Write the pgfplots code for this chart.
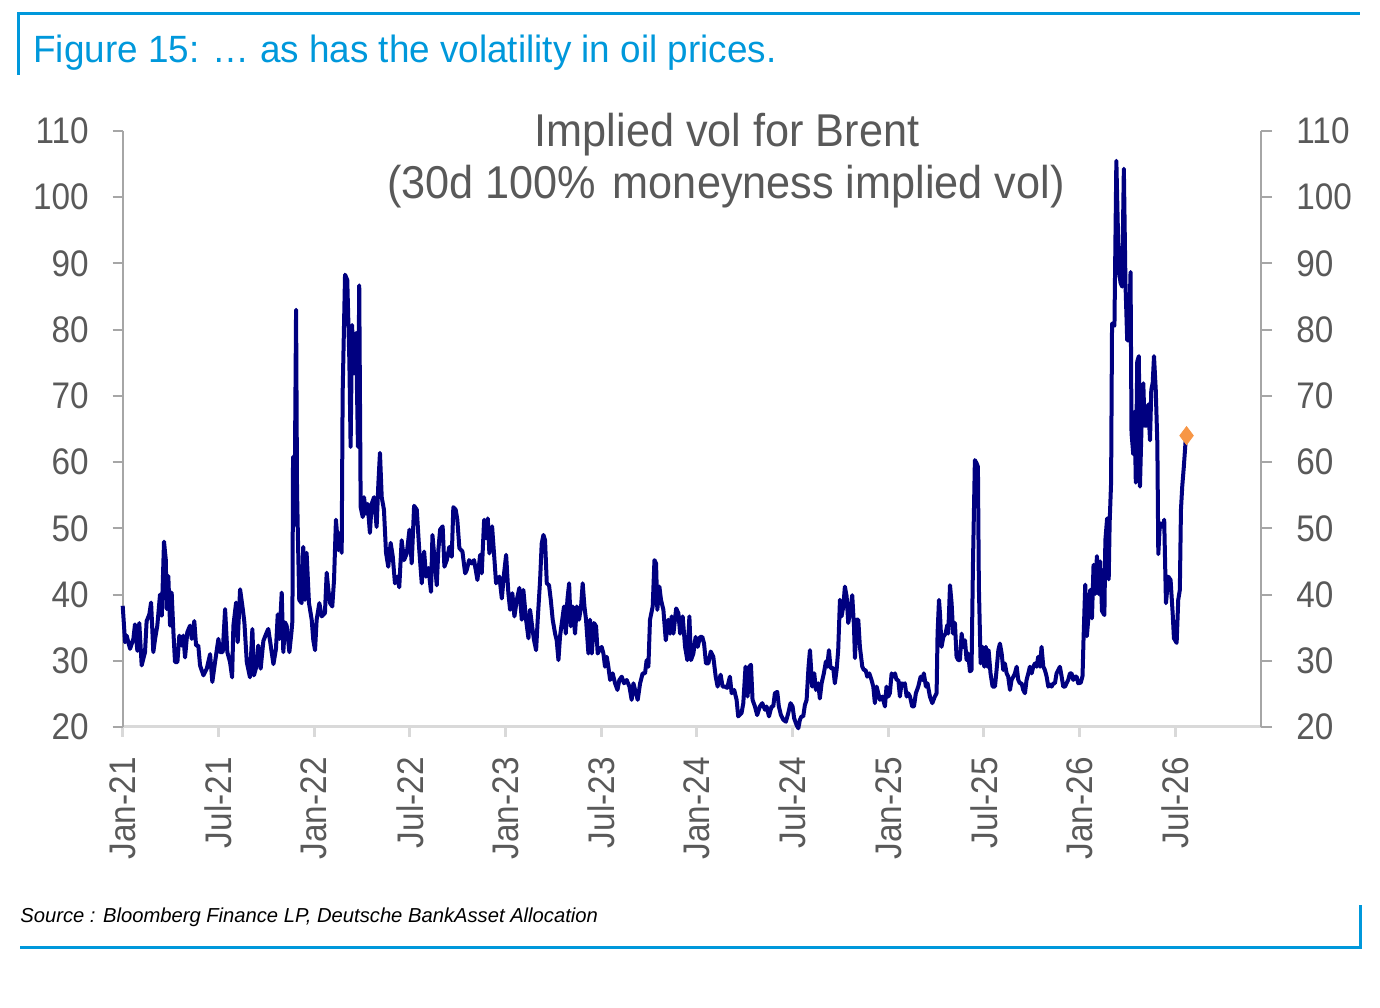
\documentclass[border=0pt]{standalone}
\usepackage{pgfplots}
\pgfplotsset{compat=1.18}
\usepackage{pgfplotstable}
\usepackage{fontspec}
\setmainfont{Liberation Sans}[FakeStretch=0.94]
\newfontfamily\tickfont{Liberation Sans}[FakeStretch=0.9]
\newfontfamily\titlefont{Liberation Sans}[FakeStretch=0.97]
\newfontfamily\srcfont{Liberation Sans}
\definecolor{dbblue}{RGB}{0,152,219}
\definecolor{txtgray}{RGB}{89,89,89}
\definecolor{axgray}{RGB}{166,166,166}
\definecolor{axlight}{RGB}{217,217,217}
\definecolor{navyline}{RGB}{0,0,128}
\definecolor{orangemk}{RGB}{247,150,70}

\pgfplotstableread{
m v
0.00 38.3
0.15 32.8
0.25 33.8
0.46 31.8
0.67 33.3
0.77 35.5
0.92 31.5
1.04 35.7
1.19 29.3
1.40 31.3
1.50 36.0
1.67 37.0
1.78 38.8
1.92 31.3
2.03 33.3
2.17 35.3
2.34 40.0
2.45 36.8
2.59 48.0
2.70 45.3
2.76 37.8
2.86 42.8
2.97 35.3
3.07 40.3
3.18 34.3
3.28 29.8
3.43 29.8
3.55 33.8
3.70 32.3
3.80 33.8
3.91 30.5
4.05 34.3
4.22 35.3
4.33 33.3
4.49 36.0
4.60 32.3
4.74 32.3
4.85 29.3
5.06 27.8
5.27 28.8
5.48 31.0
5.62 26.8
5.79 29.8
6.00 33.3
6.10 31.3
6.27 31.3
6.42 37.8
6.56 31.3
6.73 29.8
6.86 27.5
6.94 35.3
7.11 38.8
7.21 32.8
7.36 40.8
7.53 37.8
7.63 35.8
7.78 29.8
7.98 27.5
8.13 34.8
8.23 27.8
8.40 29.3
8.50 32.3
8.65 28.8
8.82 33.0
9.03 34.3
9.13 34.8
9.28 32.3
9.45 29.5
9.61 31.8
9.72 37.0
9.82 33.3
9.97 40.3
10.07 31.3
10.18 35.8
10.28 35.3
10.45 31.3
10.58 34.3
10.64 36.0
10.68 60.8
10.77 50.5
10.87 83.0
10.93 55.8
11.00 47.0
11.07 39.2
11.22 38.7
11.32 47.2
11.43 39.2
11.53 46.3
11.68 38.7
11.85 36.2
11.95 33.1
12.06 31.6
12.16 36.2
12.33 38.7
12.48 36.7
12.68 37.2
12.79 43.3
12.89 40.8
13.00 38.7
13.14 38.2
13.25 42.2
13.37 51.3
13.52 46.7
13.62 49.3
13.73 46.3
13.79 70.4
13.94 88.3
14.08 87.5
14.21 75.4
14.29 62.3
14.38 80.7
14.50 73.4
14.63 79.5
14.75 62.3
14.83 86.7
14.92 53.2
15.05 51.7
15.13 54.7
15.25 52.2
15.36 53.7
15.50 49.3
15.61 53.7
15.76 54.7
15.92 50.2
16.03 56.8
16.13 61.4
16.24 54.7
16.38 52.8
16.51 46.3
16.65 44.2
16.80 47.8
16.93 45.8
17.07 41.7
17.22 42.7
17.34 41.1
17.49 48.2
17.64 45.2
17.81 46.2
17.98 49.8
18.12 44.7
18.27 53.4
18.44 52.8
18.58 47.2
18.75 41.7
18.90 46.5
19.02 42.7
19.17 44.0
19.33 40.4
19.42 49.0
19.54 45.7
19.69 41.4
19.79 46.7
19.90 49.8
20.06 50.3
20.17 44.2
20.32 45.2
20.48 47.2
20.63 45.7
20.73 53.2
20.88 52.8
20.98 51.3
21.11 47.0
21.30 46.5
21.47 43.2
21.57 43.7
21.72 45.2
21.88 44.7
22.03 45.2
22.24 42.2
22.41 46.0
22.51 43.2
22.66 51.3
22.78 48.5
22.89 51.5
22.99 46.2
23.16 50.3
23.31 45.2
23.41 41.7
23.62 42.7
23.77 39.4
23.91 43.2
24.04 46.0
24.18 40.2
24.29 37.7
24.43 40.2
24.56 36.7
24.71 39.2
24.87 41.0
25.02 36.2
25.12 40.7
25.29 36.2
25.44 33.4
25.54 37.7
25.67 35.2
25.79 33.1
25.92 31.6
26.02 36.2
26.17 42.2
26.27 47.7
26.38 49.0
26.48 48.2
26.59 41.7
26.73 41.4
26.84 39.2
26.96 36.2
27.11 34.1
27.21 33.1
27.32 30.1
27.42 33.7
27.53 35.7
27.67 38.2
27.78 34.1
27.88 39.2
27.99 41.7
28.09 35.2
28.22 38.2
28.36 34.1
28.47 38.2
28.61 36.2
28.74 38.2
28.84 41.7
28.95 38.2
29.05 36.2
29.20 31.1
29.30 36.2
29.41 31.1
29.55 35.7
29.68 35.2
29.78 31.1
29.89 31.6
30.03 32.1
30.14 31.1
30.24 29.1
30.35 30.6
30.45 29.1
30.56 27.1
30.72 28.1
30.87 26.6
31.02 25.6
31.14 27.1
31.29 27.6
31.43 26.6
31.60 27.1
31.77 26.1
31.91 24.1
32.02 26.6
32.18 25.1
32.29 24.1
32.44 26.6
32.60 28.1
32.75 28.1
32.85 30.1
32.96 29.1
33.06 36.2
33.23 38.2
33.34 45.2
33.44 44.7
33.52 37.7
33.65 41.2
33.75 39.2
33.90 37.7
34.05 33.1
34.21 36.2
34.32 34.1
34.42 36.7
34.53 34.1
34.70 37.9
34.84 37.2
34.95 34.1
35.11 36.7
35.26 32.1
35.40 30.1
35.53 36.7
35.63 30.1
35.78 31.1
35.92 33.6
36.05 32.1
36.20 33.6
36.34 33.6
36.45 32.6
36.57 29.6
36.72 29.6
36.87 31.4
37.03 30.6
37.18 27.6
37.30 26.1
37.34 26.6
37.49 27.9
37.61 26.1
37.76 26.1
37.90 25.9
38.07 27.6
38.18 25.1
38.34 25.6
38.49 24.1
38.59 21.6
38.80 22.1
38.91 23.6
39.05 29.1
39.18 24.6
39.28 29.1
39.39 29.4
39.49 24.1
39.64 23.1
39.78 21.8
39.95 23.1
40.10 23.6
40.27 22.6
40.37 23.1
40.52 21.6
40.68 23.1
40.79 23.1
40.89 25.1
41.04 25.3
41.14 23.1
41.27 21.8
41.42 21.1
41.58 20.8
41.73 22.1
41.87 23.6
42.00 23.1
42.10 21.3
42.25 20.3
42.36 19.8
42.46 21.1
42.56 21.6
42.67 21.6
42.77 23.3
42.88 24.1
43.00 29.1
43.09 31.6
43.23 26.1
43.36 28.1
43.46 25.6
43.61 26.6
43.71 24.3
43.82 26.6
43.96 28.1
44.09 29.9
44.17 29.1
44.28 31.6
44.38 28.9
44.55 28.9
44.65 26.6
44.76 28.6
44.86 31.6
44.97 39.2
45.07 36.7
45.18 38.2
45.28 41.2
45.39 39.7
45.49 35.7
45.60 37.2
45.74 39.9
45.85 35.2
45.91 30.4
46.01 36.2
46.12 36.2
46.22 32.1
46.37 29.1
46.47 28.6
46.58 28.6
46.68 27.6
46.81 28.1
46.95 27.1
47.06 26.1
47.16 23.6
47.27 26.1
47.37 25.1
47.48 24.1
47.64 24.6
47.79 23.1
47.89 26.1
48.00 24.6
48.10 25.1
48.21 28.1
48.31 27.6
48.42 28.1
48.52 27.1
48.63 27.1
48.73 24.6
48.83 26.6
48.94 26.4
49.04 26.6
49.15 24.6
49.25 25.1
49.36 24.6
49.50 23.1
49.61 23.1
49.73 25.1
49.88 26.1
50.03 27.6
50.13 27.1
50.23 28.1
50.36 26.1
50.46 26.6
50.61 24.6
50.76 23.6
50.92 24.6
51.03 25.1
51.09 34.1
51.18 39.2
51.24 37.2
51.34 32.1
51.45 33.6
51.59 34.1
51.70 35.4
51.76 34.1
51.87 41.4
51.97 38.7
52.07 34.1
52.18 35.7
52.28 30.6
52.39 30.1
52.49 30.1
52.60 34.1
52.70 32.1
52.81 33.1
52.91 30.1
53.01 31.1
53.12 28.4
53.22 28.6
53.31 44.7
53.43 60.3
53.54 59.8
53.62 59.3
53.68 41.2
53.79 29.6
53.91 32.1
54.02 29.1
54.12 32.1
54.21 29.1
54.29 31.6
54.41 28.1
54.54 26.1
54.69 26.1
54.79 28.6
54.90 31.6
55.00 32.6
55.11 31.1
55.21 28.6
55.31 29.6
55.42 28.1
55.52 27.6
55.63 25.6
55.73 27.1
55.84 27.6
55.94 28.1
56.05 29.1
56.15 27.1
56.25 26.6
56.36 26.6
56.46 25.6
56.57 25.1
56.67 27.1
56.78 28.1
56.88 29.1
56.99 28.1
57.09 29.1
57.20 29.6
57.30 29.1
57.40 30.6
57.51 29.1
57.61 32.1
57.72 29.1
57.82 28.6
57.93 27.6
58.03 26.1
58.14 26.4
58.24 26.1
58.35 26.6
58.45 26.6
58.55 28.1
58.66 28.6
58.76 29.1
58.87 27.6
58.97 26.1
59.08 26.1
59.18 26.6
59.28 27.1
59.39 28.1
59.49 28.1
59.60 27.1
59.70 27.6
59.81 27.6
59.91 26.6
60.07 26.7
60.18 27.7
60.24 33.1
60.35 41.5
60.45 33.7
60.56 36.9
60.66 40.7
60.77 36.4
60.87 44.5
60.98 40.1
61.08 45.8
61.19 40.1
61.29 45.0
61.40 37.5
61.55 36.9
61.61 48.2
61.72 51.5
61.82 42.3
61.88 50.9
61.97 56.9
62.03 80.9
62.18 80.6
62.30 105.5
62.45 89.2
62.56 87.1
62.66 86.5
62.77 104.3
62.87 87.1
62.98 78.4
63.08 78.4
63.19 88.7
63.25 64.4
63.36 61.2
63.44 67.6
63.52 56.9
63.61 75.2
63.71 76.0
63.78 56.3
63.88 65.5
63.99 71.9
64.07 65.5
64.20 65.5
64.30 68.7
64.41 63.3
64.49 70.9
64.58 72.0
64.66 76.0
64.77 70.9
64.87 62.8
64.93 46.1
65.03 50.8
65.14 50.4
65.24 50.2
65.30 51.3
65.41 38.7
65.56 42.7
65.70 42.2
65.83 37.2
65.91 33.4
66.08 32.7
66.18 39.2
66.28 40.7
66.35 52.8
66.43 56.3
66.53 59.3
66.66 63.8
66.70 64.0
}\brent

\begin{document}
\begin{tikzpicture}
\path[use as bounding box] (0,0) rectangle (690bp,504bp);
% frame lines
\draw[dbblue, line width=1.5bp] (9bp,466.5bp) -- (9bp,497bp) -- (680bp,497bp);
\draw[dbblue, line width=1.5bp] (10bp,30bp) -- (680bp,30bp) -- (680bp,51.5bp);
\node[anchor=base west, inner sep=0pt, text=dbblue, font=\titlefont\fontsize{19bp}{22bp}\selectfont] at (16.5bp,472.5bp) {Figure 15: … as has the volatility in oil prices.};
\node[anchor=base west, inner sep=0pt, text=black, font=\srcfont\fontsize{10.1bp}{12bp}\selectfont\itshape] at (10bp,42.5bp) {Source : Bloomberg Finance LP, Deutsche BankAsset Allocation};

\begin{axis}[
  at={(61.35bp,140.5bp)}, anchor=south west,
  scale only axis, width=569.15bp, height=298bp,
  xmin=0, xmax=71.37, ymin=20, ymax=110,
  axis x line*=bottom, axis y line*=left,
  x axis line style={draw=axlight, line width=1.5bp, -},
  y axis line style={draw=axgray, line width=1bp, -},
  tick align=outside, major tick length=5bp,
  xtick={0,6,12,18,24,30,36,42,48,54,60,66},
  xticklabels={Jan-21,Jul-21,Jan-22,Jul-22,Jan-23,Jul-23,Jan-24,Jul-24,Jan-25,Jul-25,Jan-26,Jul-26},
  ytick={20,30,40,50,60,70,80,90,100,110},
  yticklabels={20,30,40,50,60,70,80,90,100,110},
  xtick style={draw=axlight, line width=1.5bp},
  ytick style={draw=axgray, line width=1bp},
  ticklabel style={text=txtgray, font=\tickfont\fontsize{18.5bp}{20bp}\selectfont},
  xticklabel style={rotate=90, anchor=east, inner sep=0pt, xshift=-10bp},
  yticklabel style={anchor=east, inner sep=0pt, xshift=-11.85bp},
  clip=false,
]
\addplot[navyline, line width=2bp, line join=round, no marks] table[x=m, y=v] {\brent};
\addplot[only marks, mark=diamond*, mark size=4.5bp, color=orangemk] coordinates {(66.70,64.0)};
\end{axis}

\begin{axis}[
  at={(61.35bp,140.5bp)}, anchor=south west,
  scale only axis, width=569.15bp, height=298bp,
  xmin=0, xmax=71.37, ymin=20, ymax=110,
  axis x line=none, axis y line*=right,
  y axis line style={draw=axgray, line width=1bp, -},
  tick align=outside, major tick length=5.5bp,
  xtick=\empty,
  ytick={20,30,40,50,60,70,80,90,100,110},
  yticklabels={20,30,40,50,60,70,80,90,100,110},
  ytick style={draw=axgray, line width=1bp},
  yticklabel style={text=txtgray, font=\tickfont\fontsize{18.5bp}{20bp}\selectfont, anchor=west, inner sep=0pt, xshift=12bp},
]
\end{axis}

\node[anchor=base, inner sep=0pt, text=txtgray, font=\fontsize{23bp}{26bp}\selectfont] at (363.5bp,430.5bp) {Implied vol for Brent};
\node[anchor=base, inner sep=0pt, text=txtgray, font=\fontsize{23bp}{26bp}\selectfont] at (363bp,404.5bp) {(30d 100\%\hspace{0.1em} moneyness implied vol)};
\end{tikzpicture}
\end{document}
